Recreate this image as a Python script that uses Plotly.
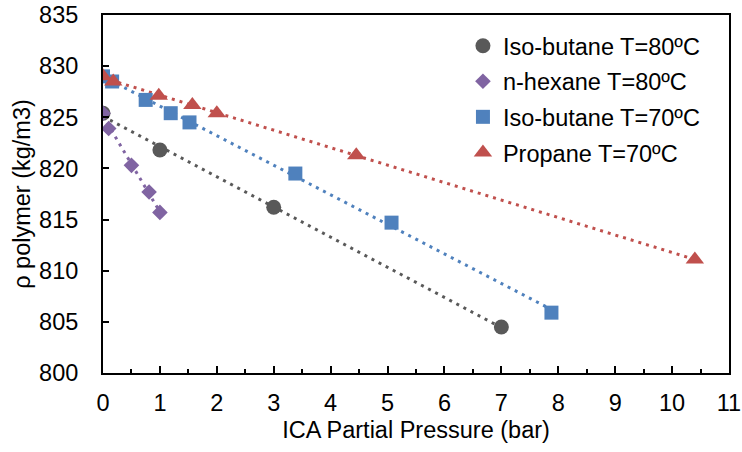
import numpy as np
import plotly.graph_objects as go

names = ["Iso-butane T=80ºC", "n-hexane T=80ºC", "Iso-butane T=70ºC", "Propane T=70ºC"]
colors = ["#595959", "#8064A2", "#4F81BD", "#C0504D"]
symbols = ["circle", "diamond", "square", "triangle-up"]
sizes = [15, 12, 14, 16]

ib80_x = [0, 1, 3, 7]
ib80_y = [825.4, 821.8, 816.2, 804.5]
hex80_x = [0, 0.1, 0.5, 0.81, 1.0]
hex80_y = [825.4, 823.9, 820.3, 817.7, 815.7]
ib70_x = [0, 0.16, 0.75, 1.19, 1.52, 3.38, 5.07, 7.88]
ib70_y = [829.0, 828.5, 826.7, 825.4, 824.5, 819.5, 814.7, 805.9]
pr70_x = [0, 0.18, 0.98, 1.57, 2.0, 4.45, 10.4]
pr70_y = [829.0, 828.5, 827.1, 826.2, 825.4, 821.3, 811.1]

series_x = [ib80_x, hex80_x, ib70_x, pr70_x]
series_y = [ib80_y, hex80_y, ib70_y, pr70_y]

fig = go.Figure()
font = "Liberation Sans, Arial, sans-serif"
FS = 23.5

# linear trendlines
for xs, ys, c in zip(series_x, series_y, colors):
    m, b = np.polyfit(xs, ys, 1)
    x0, x1 = min(xs), max(xs)
    fig.add_trace(go.Scatter(x=[x0, x1], y=[m * x0 + b, m * x1 + b], mode="lines",
                             line=dict(color=c, width=3, dash="3px,5px"),
                             showlegend=False, hoverinfo="skip"))

for i, (xs, ys) in enumerate(zip(series_x, series_y)):
    fig.add_trace(go.Scatter(x=xs, y=ys, mode="markers", name=names[i], legendgroup=f"g{i}",
                             marker=dict(color=colors[i], symbol=symbols[i], size=sizes[i],
                                         line=dict(width=0))))

fig.update_layout(
    width=742, height=452,
    margin=dict(l=103, r=13, t=15, b=79),
    paper_bgcolor="white", plot_bgcolor="white",
    font=dict(family=font, size=FS, color="black"),
    legend=dict(x=0.575, y=0.975, xanchor="left", yanchor="top",
                font=dict(size=FS), tracegroupgap=2, itemwidth=30,
                bgcolor="rgba(0,0,0,0)"),
    xaxis=dict(range=[0, 11], dtick=1, tick0=0, ticks="inside", ticklen=7, tickwidth=1.5,
               tickcolor="black", showline=True, linecolor="black", linewidth=2, mirror=True,
               showgrid=False, zeroline=False, automargin=False, ticklabelstandoff=8,
               minor=dict(dtick=0.5, ticks="inside", ticklen=4, tickwidth=1.5, tickcolor="black"),
               title=dict(text="ICA Partial Pressure (bar)", font=dict(size=FS), standoff=6),
               tickfont=dict(size=FS)),
    yaxis=dict(range=[800, 835], dtick=5, tick0=800, ticks="inside", ticklen=6, tickwidth=1.5,
               tickcolor="black", showline=True, linecolor="black", linewidth=2, mirror=True,
               showgrid=False, zeroline=False, automargin=False, ticklabelstandoff=18,
               title=dict(text="ρ polymer (kg/m3)", font=dict(size=FS), standoff=2),
               tickfont=dict(size=FS)),
)

fig.write_html("out.html")
